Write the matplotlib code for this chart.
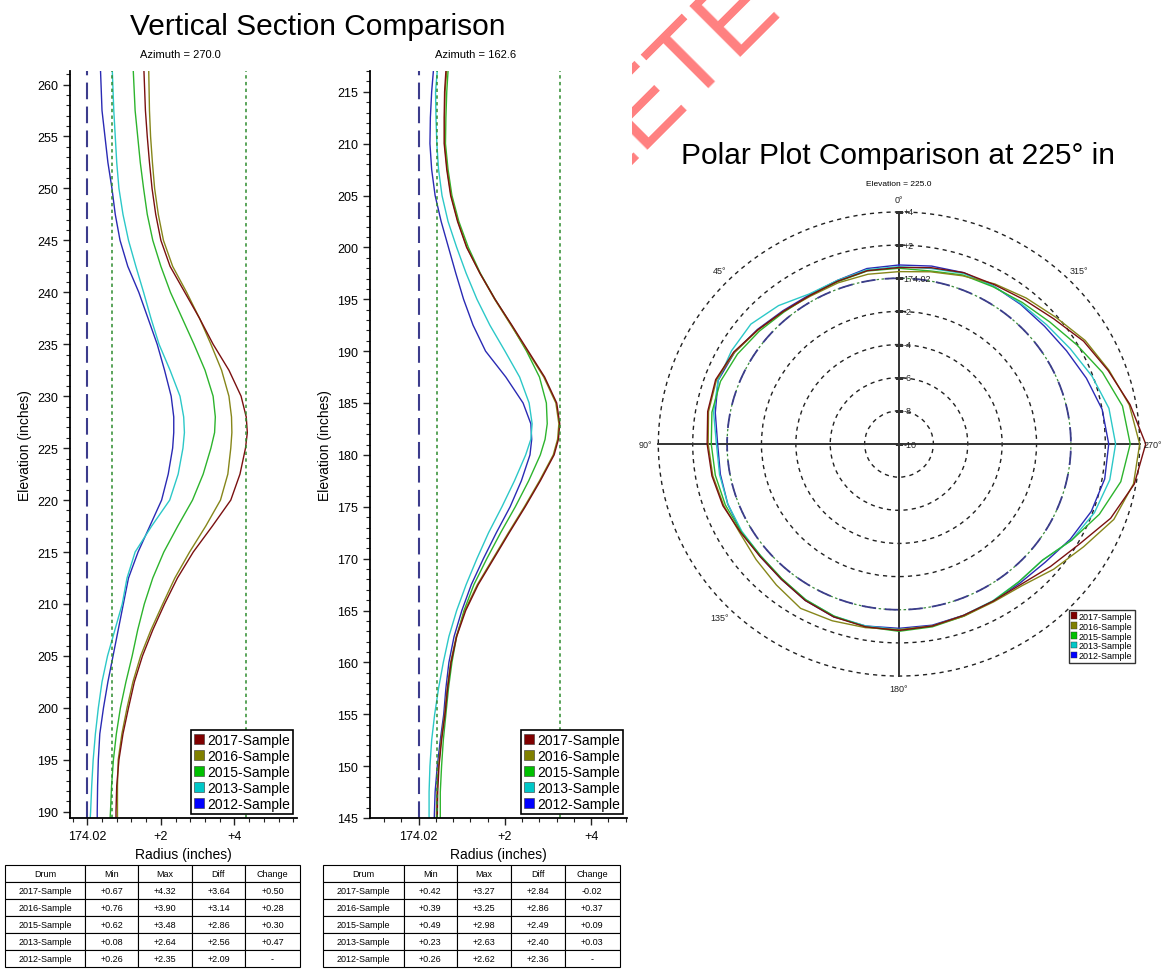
import matplotlib
matplotlib.use('Agg')
import matplotlib.pyplot as plt
import numpy as np
from matplotlib.patches import Patch
from matplotlib.ticker import MultipleLocator
from matplotlib.transforms import Bbox, TransformedBbox

plt.rcParams['font.family'] = ['Liberation Sans', 'DejaVu Sans']

W, H = 1164, 970

# Dados
samples = ['2017-Sample', '2016-Sample', '2015-Sample', '2013-Sample', '2012-Sample']
line_colors = ['#7a1010', '#86861a', '#2db42d', '#2cc8c8', '#2a2ab4']
patch_colors = ['#800000', '#808000', '#00c000', '#00c8c8', '#0000ff']

# secao vertical, azimute 270.0
elev_270 = [261.3, 257.5, 255, 252.5, 250, 247.5, 245, 242.5, 240, 237.5, 235, 232.5, 230, 228,
            226.5, 225, 222.5, 220, 217.5, 215, 212.5, 210, 207.5, 205, 202.5, 200, 197.5, 195,
            192.5, 190, 189.4]
r270_2017 = [1.54, 1.58, 1.63, 1.69, 1.76, 1.86, 2.00, 2.25, 2.65, 3.05, 3.42, 3.85, 4.18, 4.32,
             4.35, 4.30, 4.15, 3.90, 3.40, 2.88, 2.45, 2.10, 1.78, 1.50, 1.28, 1.12, 0.97, 0.86,
             0.80, 0.78, 0.78]
r270_2016 = [1.67, 1.69, 1.72, 1.77, 1.83, 1.93, 2.07, 2.32, 2.70, 3.05, 3.36, 3.65, 3.85, 3.92,
             3.93, 3.90, 3.82, 3.62, 3.22, 2.78, 2.38, 2.05, 1.73, 1.45, 1.24, 1.08, 0.94, 0.84,
             0.82, 0.82, 0.82]
r270_2015 = [1.25, 1.30, 1.37, 1.44, 1.53, 1.63, 1.78, 2.00, 2.26, 2.58, 2.90, 3.20, 3.42, 3.48,
             3.46, 3.36, 3.15, 2.86, 2.46, 2.08, 1.78, 1.55, 1.37, 1.22, 1.05, 0.90, 0.79, 0.71,
             0.66, 0.63, 0.62]
r270_2013 = [0.68, 0.72, 0.76, 0.80, 0.86, 0.97, 1.12, 1.32, 1.53, 1.73, 1.95, 2.25, 2.52, 2.62,
             2.64, 2.60, 2.47, 2.24, 1.75, 1.30, 1.08, 0.95, 0.75, 0.55, 0.40, 0.30, 0.22, 0.16,
             0.12, 0.09, 0.08]
r270_2012 = [0.36, 0.40, 0.48, 0.56, 0.67, 0.76, 0.89, 1.10, 1.40, 1.65, 1.90, 2.10, 2.28, 2.35,
             2.35, 2.32, 2.20, 2.02, 1.70, 1.38, 1.12, 0.98, 0.84, 0.70, 0.56, 0.44, 0.34, 0.30,
             0.28, 0.27, 0.27]

# secao vertical, azimute 162.6
elev_162 = [217, 215, 212.5, 210, 207.5, 205, 202.5, 200, 197.5, 195, 192.5, 190, 187.5, 185, 183,
            181.5, 180, 177.5, 175, 172.5, 170, 167.5, 165, 162.5, 160, 157.5, 155, 152.5, 150,
            147.5, 145]
r162_2017 = [0.63, 0.60, 0.59, 0.59, 0.65, 0.74, 0.90, 1.11, 1.42, 1.77, 2.16, 2.54, 2.92, 3.20,
             3.27, 3.24, 3.14, 2.82, 2.47, 2.10, 1.74, 1.38, 1.09, 0.88, 0.75, 0.67, 0.61, 0.53,
             0.47, 0.44, 0.43]
r162_2016 = [0.65, 0.61, 0.60, 0.60, 0.66, 0.75, 0.91, 1.12, 1.42, 1.76, 2.14, 2.52, 2.90, 3.18,
             3.25, 3.22, 3.12, 2.80, 2.45, 2.08, 1.72, 1.36, 1.07, 0.87, 0.74, 0.66, 0.60, 0.52,
             0.46, 0.42, 0.41]
r162_2015 = [0.68, 0.65, 0.63, 0.62, 0.68, 0.77, 0.93, 1.15, 1.43, 1.77, 2.15, 2.50, 2.80, 2.96,
             2.98, 2.93, 2.82, 2.55, 2.24, 1.90, 1.58, 1.28, 1.05, 0.88, 0.77, 0.69, 0.63, 0.57,
             0.53, 0.50, 0.50]
r162_2013 = [0.43, 0.39, 0.40, 0.42, 0.46, 0.54, 0.68, 0.88, 1.10, 1.35, 1.65, 2.00, 2.34, 2.56,
             2.63, 2.60, 2.48, 2.22, 1.93, 1.62, 1.35, 1.10, 0.88, 0.70, 0.57, 0.46, 0.37, 0.30,
             0.26, 0.24, 0.24]
r162_2012 = [0.34, 0.30, 0.27, 0.26, 0.30, 0.38, 0.52, 0.69, 0.86, 1.04, 1.26, 1.55, 2.02, 2.42,
             2.60, 2.62, 2.58, 2.38, 2.12, 1.80, 1.50, 1.22, 1.00, 0.82, 0.70, 0.63, 0.58, 0.50,
             0.43, 0.38, 0.36]

# tabelas
min_270 = [0.67, 0.76, 0.62, 0.08, 0.26]
max_270 = [4.32, 3.90, 3.48, 2.64, 2.35]
diff_270 = [3.64, 3.14, 2.86, 2.56, 2.09]
change_270 = [0.50, 0.28, 0.30, 0.47, None]
min_162 = [0.42, 0.39, 0.49, 0.23, 0.26]
max_162 = [3.27, 3.25, 2.98, 2.63, 2.62]
diff_162 = [2.84, 2.86, 2.49, 2.40, 2.36]
change_162 = [-0.02, 0.37, 0.09, 0.03, None]

# polar, elevacao 225.0 (angulo a cada 10 graus, anti-horario a partir do topo)
ang = np.arange(0, 360, 10)
p_2017 = [0.65, 0.62, 0.45, 0.35, 0.45, 0.72, 1.10, 1.35, 1.30, 1.16, 1.05, 0.90, 0.65, 0.55, 0.65,
          0.90, 1.10, 1.20, 1.25, 1.15, 1.00, 0.95, 1.05, 1.50, 2.10, 3.10, 3.90, 4.35, 3.65, 2.95,
          2.40, 1.75, 1.35, 1.10, 1.00, 0.80]
p_2016 = [0.40, 0.40, 0.35, 0.30, 0.45, 0.70, 1.05, 1.30, 1.25, 1.10, 1.00, 0.85, 0.70, 0.85, 1.10,
          1.45, 1.35, 1.25, 1.20, 1.15, 1.05, 1.00, 1.15, 1.75, 2.40, 3.30, 3.85, 4.00, 3.60, 3.00,
          2.50, 1.90, 1.50, 1.15, 0.80, 0.55]
p_2015 = [0.60, 0.60, 0.42, 0.35, 0.40, 0.60, 0.85, 1.05, 1.05, 0.92, 0.85, 0.75, 0.60, 0.50, 0.60,
          0.85, 1.05, 1.20, 1.30, 1.20, 1.05, 0.95, 0.85, 0.90, 1.60, 2.40, 3.10, 3.45, 3.20, 2.60,
          1.95, 1.45, 1.15, 0.95, 0.85, 0.60]
p_2013 = [0.70, 0.68, 0.50, 0.45, 0.90, 1.25, 1.25, 1.20, 0.95, 0.62, 0.60, 0.60, 0.55, 0.50, 0.62,
          0.85, 1.05, 1.15, 1.20, 1.15, 1.00, 0.92, 0.85, 0.90, 1.60, 2.10, 2.45, 2.60, 2.40, 1.95,
          1.50, 1.20, 1.05, 1.00, 0.95, 0.75]
p_2012 = [0.80, 0.75, 0.50, 0.40, 0.50, 0.75, 1.05, 1.20, 0.85, 0.55, 0.55, 0.60, 0.60, 0.55, 0.65,
          0.90, 1.10, 1.15, 1.12, 1.10, 1.00, 0.95, 0.95, 1.10, 1.50, 1.90, 2.15, 2.20, 2.00, 1.60,
          1.25, 1.05, 1.00, 1.00, 1.00, 0.90]
rings = [4, 2, 0, -2, -4, -6, -8, -10]
ring_labels = ['+4', '+2', '174.02', '-2', '-4', '-6', '-8', '-10']
angle_labels = [0, 45, 90, 135, 180, 270, 315]


def box(l, t, r, b):
    return [l / W, 1 - b / H, (r - l) / W, (b - t) / H]


fig = plt.figure(figsize=(W / 100, H / 100), dpi=100)

# marca d'agua
wm = fig.text(782 / W, 1 - 10 / H, 'COMPLETE', rotation=45, rotation_mode='anchor',
              ha='right', va='baseline', fontsize=74, color='#ff8080', zorder=0)
wm.set_clip_box(TransformedBbox(Bbox([[632 / W, 1 - 175 / H], [1, 1]]), fig.transFigure))

fig.text(318 / W, 1 - 27 / H, 'Vertical Section Comparison', fontsize=21.5, ha='center', va='center')
fig.text(898 / W, 1 - 156 / H, 'Polar Plot Comparison at 225° in', fontsize=21.5,
         ha='center', va='center')


def vertical_section(rect, elev, series, rmin, rmax, xlim, ylim, title, title_x):
    ax = fig.add_axes(rect)
    for r, c in zip(series[::-1], line_colors[::-1]):
        ax.plot(r, elev, color=c, lw=1.0)
    ax.axvline(0, color='#3c3c8c', ls=(0, (8, 3.5)), lw=1.5)
    ax.axvline(rmin, color='#2e8b2e', ls=(0, (2.2, 2.2)), lw=1.1)
    ax.axvline(rmax, color='#2e8b2e', ls=(0, (2.2, 2.2)), lw=1.1)
    ax.set_xlim(*xlim)
    ax.set_ylim(*ylim)
    ax.spines['top'].set_visible(False)
    ax.spines['right'].set_visible(False)
    ax.spines['left'].set_linewidth(1.3)
    ax.spines['bottom'].set_linewidth(1.3)
    ax.set_xticks([0, 2, 4])
    ax.set_xticklabels(['174.02', '+2', '+4'])
    ax.xaxis.set_minor_locator(MultipleLocator(0.4))
    ax.yaxis.set_major_locator(MultipleLocator(5))
    ax.yaxis.set_minor_locator(MultipleLocator(1))
    ax.tick_params(which='major', length=5, width=1, labelsize=9, color='#222222')
    ax.tick_params(which='minor', length=3, width=0.8, color='#222222')
    ax.set_xlabel('Radius (inches)', fontsize=10)
    ax.set_ylabel('Elevation (inches)', fontsize=10)
    fig.text(title_x / W, 1 - 55 / H, title, fontsize=8, ha='center', va='center')
    handles = [Patch(facecolor=c, edgecolor='#333333', lw=0.4) for c in patch_colors]
    leg = ax.legend(handles, samples, loc='lower right', fontsize=10, handlelength=0.75,
                    handleheight=0.75, handletextpad=0.2, borderpad=0.2, labelspacing=0.15,
                    borderaxespad=0.3, fancybox=False, framealpha=1)
    leg.get_frame().set_edgecolor('black')
    leg.get_frame().set_linewidth(1.2)
    return ax


vertical_section(box(70, 72, 297, 819), elev_270,
                 [r270_2017, r270_2016, r270_2015, r270_2013, r270_2012],
                 min_270[0], max_270[0], (-0.47, 5.7), (189.4, 261.3), 'Azimuth = 270.0', 180)
vertical_section(box(370, 72, 627, 819), elev_162,
                 [r162_2017, r162_2016, r162_2015, r162_2013, r162_2012],
                 min_162[0], max_162[0], (-1.13, 4.83), (145, 217.0), 'Azimuth = 162.6', 476)


def draw_table(rect, mins, maxs, diffs, changes):
    ax = fig.add_axes(rect)
    ax.axis('off')
    rows = []
    for s, a, b, d, c in zip(samples, mins, maxs, diffs, changes):
        rows.append([s, f'{a:+.2f}', f'{b:+.2f}', f'{d:+.2f}', '-' if c is None else f'{c:+.2f}'])
    tb = ax.table(cellText=rows, colLabels=['Drum', 'Min', 'Max', 'Diff', 'Change'],
                  cellLoc='center', bbox=[0, 0, 1, 1], colWidths=[80, 53, 54, 53, 55])
    tb.auto_set_font_size(False)
    tb.set_fontsize(6.5)
    for cell in tb.get_celld().values():
        cell.set_linewidth(0.8)


draw_table(box(5, 866, 300, 968), min_270, max_270, diff_270, change_270)
draw_table(box(323, 866, 620, 968), min_162, max_162, diff_162, change_162)

# grafico polar
axp = fig.add_axes(box(648, 203, 1150, 687), projection='polar')
axp.set_aspect('auto')
axp.set_theta_zero_location('N')
axp.set_theta_direction(1)
axp.set_ylim(-10, 4.6)
axp.set_xticks([])
axp.set_yticks([-8, -6, -4, -2, 2, 4])
axp.set_yticklabels([])
axp.tick_params(axis='y', length=0)
axp.yaxis.grid(True, color='#222222', ls=(0, (3, 3)), lw=1)
axp.xaxis.grid(False)
axp.spines['polar'].set_visible(False)

th_full = np.deg2rad(np.linspace(0, 360, 361))
axp.plot(th_full, np.zeros_like(th_full), color='#3c8c3c', ls=(0, (2, 2)), lw=0.9)
axp.plot(th_full, np.zeros_like(th_full), color='#3c3c8c', ls=(0, (8, 5)), lw=1.3)

for a in [0, 90, 180, 270]:
    axp.plot([np.deg2rad(a)] * 2, [-10, 4], color='#333333', lw=1.4)
axp.plot(np.zeros(len(rings)), rings, ls='none', marker='_', ms=6, mew=1, color='#333333')
for v, lab in zip(rings, ring_labels):
    axp.annotate(lab, xy=(0, v), xytext=(3, 0), textcoords='offset points', fontsize=6.5,
                 ha='left', va='center', color='#222222')
for a in angle_labels:
    axp.text(np.deg2rad(a), 4.78, f'{a}°', fontsize=6.5, ha='center', va='center',
             color='#222222')

ang_closed = np.deg2rad(np.append(ang, 360))
for p, c in zip([p_2012, p_2013, p_2015, p_2016, p_2017], line_colors[::-1]):
    axp.plot(ang_closed, np.append(p, p[0]), color=c, lw=1.0)

fig.text(899 / W, 1 - 184 / H, 'Elevation = 225.0', fontsize=6, ha='center', va='center')
hp = [Patch(facecolor=c, edgecolor='#333333', lw=0.3) for c in patch_colors]
lg = fig.legend(hp, samples, loc='upper left', bbox_to_anchor=(1064 / W, 1 - 606 / H),
                fontsize=6.5, handlelength=0.7, handleheight=0.7, handletextpad=0.2,
                borderpad=0.25, labelspacing=0.1, fancybox=False, framealpha=1)
lg.get_frame().set_edgecolor('#333333')

fig.savefig('out.png', dpi=100)
